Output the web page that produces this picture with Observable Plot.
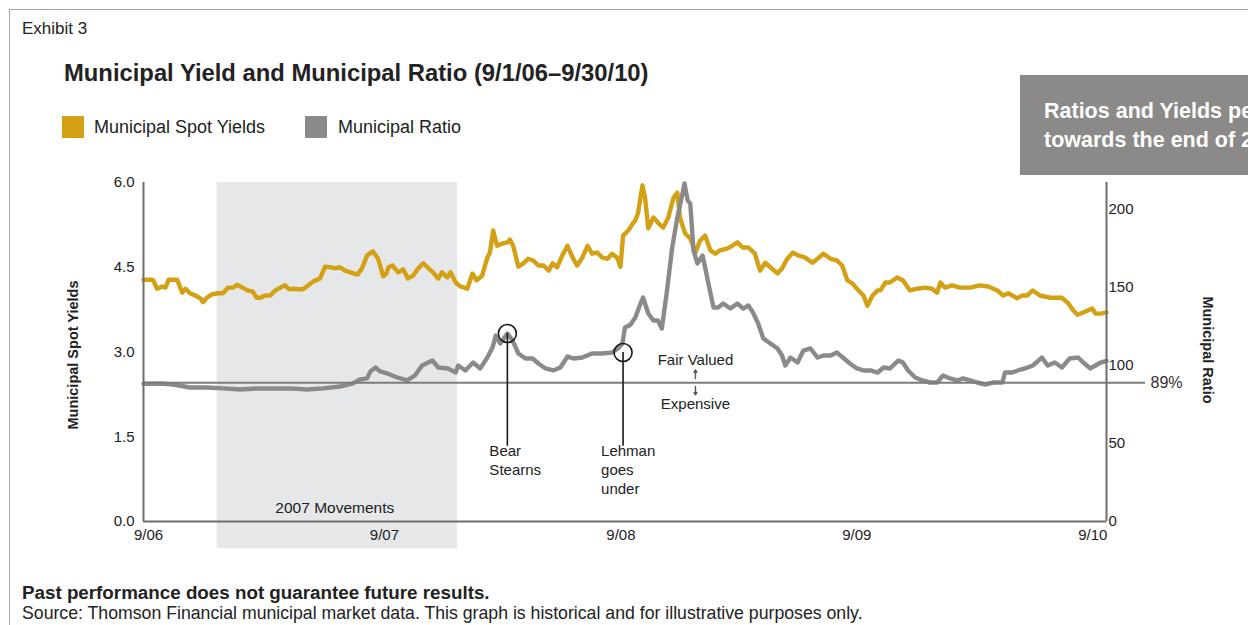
<!DOCTYPE html>
<html><head><meta charset="utf-8">
<script src="https://cdn.jsdelivr.net/npm/d3@7"></script>
<script src="https://cdn.jsdelivr.net/npm/@observablehq/plot@0.6"></script>
<style>
html,body{margin:0;padding:0;background:#fff;overflow:hidden;}
body{width:1248px;height:625px;position:relative;font-family:"Liberation Sans",Arial,Helvetica,sans-serif;color:#222;}
.abs{position:absolute;white-space:nowrap;line-height:1;}
#frame{position:absolute;left:9px;top:9px;width:1400px;height:800px;border-top:1px solid #a9a9a9;border-left:1px solid #a9a9a9;}
#chart{position:absolute;left:0;top:0;}
.sw{position:absolute;width:22px;height:22px;}
#box{position:absolute;left:1020px;top:75px;width:228px;height:100px;background:#8c8a88;overflow:hidden;}
.boxt{position:absolute;left:24px;color:#fff;font-weight:bold;font-size:21.5px;line-height:1;white-space:nowrap;}
.vt{position:absolute;font-weight:bold;font-size:14.5px;line-height:1;white-space:nowrap;}
</style></head>
<body>
<div id="frame"></div>
<div id="chart"></div>
<div class="abs" style="left:22px;top:19.5px;font-size:17px;">Exhibit 3</div>
<div class="abs" style="left:64px;top:61px;font-size:23.8px;font-weight:bold;">Municipal Yield and Municipal Ratio (9/1/06–9/30/10)</div>
<div class="sw" style="left:62px;top:116px;background:#d4a114;"></div>
<div class="abs" style="left:94px;top:118px;font-size:18px;">Municipal Spot Yields</div>
<div class="sw" style="left:305px;top:116px;background:#8c8a88;"></div>
<div class="abs" style="left:338px;top:118px;font-size:18px;">Municipal Ratio</div>
<div id="box"><div class="boxt" style="top:26px;">Ratios and Yields peaked</div><div class="boxt" style="top:55px;">towards the end of 2008</div></div>
<div class="vt" style="left:73px;top:355px;transform:translate(-50%,-50%) rotate(-90deg);">Municipal Spot Yields</div>
<div class="vt" style="left:1208px;top:350px;transform:translate(-50%,-50%) rotate(90deg);">Municipal Ratio</div>
<div class="abs" style="left:22px;top:583.5px;font-size:18.8px;font-weight:bold;">Past performance does not guarantee future results.</div>
<div class="abs" style="left:22px;top:605px;font-size:17.7px;">Source: Thomson Financial municipal market data. This graph is historical and for illustrative purposes only.</div>
<script>
// ---- data ----
const yieldDates = ["2006-09-01","2006-09-12","2006-09-16","2006-09-22","2006-09-30","2006-10-05","2006-10-10","2006-10-17","2006-10-23","2006-10-31","2006-11-05","2006-11-12","2006-11-20","2006-11-28","2006-12-02","2006-12-08","2006-12-16","2006-12-26","2007-01-02","2007-01-10","2007-01-18","2007-01-24","2007-02-01","2007-02-09","2007-02-17","2007-02-23","2007-03-01","2007-03-08","2007-03-16","2007-03-24","2007-04-01","2007-04-08","2007-04-14","2007-04-21","2007-04-28","2007-05-06","2007-05-14","2007-05-22","2007-06-01","2007-06-09","2007-06-17","2007-06-25","2007-07-02","2007-07-10","2007-07-18","2007-07-29","2007-08-05","2007-08-13","2007-08-22","2007-08-30","2007-09-07","2007-09-12","2007-09-15","2007-09-21","2007-09-30","2007-10-08","2007-10-15","2007-10-23","2007-10-31","2007-11-08","2007-11-16","2007-11-23","2007-12-01","2007-12-07","2007-12-15","2007-12-20","2007-12-28","2008-01-04","2008-01-15","2008-01-23","2008-01-29","2008-02-07","2008-02-15","2008-02-19","2008-02-24","2008-03-01","2008-03-09","2008-03-17","2008-03-21","2008-03-26","2008-04-03","2008-04-11","2008-04-18","2008-04-26","2008-05-04","2008-05-12","2008-05-20","2008-05-26","2008-06-02","2008-06-10","2008-06-18","2008-06-26","2008-07-03","2008-07-11","2008-07-19","2008-07-26","2008-08-03","2008-08-11","2008-08-19","2008-08-26","2008-09-03","2008-09-08","2008-09-12","2008-09-20","2008-09-28","2008-10-01","2008-10-05","2008-10-12","2008-10-16","2008-10-21","2008-10-29","2008-11-05","2008-11-13","2008-11-21","2008-11-29","2008-12-05","2008-12-09","2008-12-17","2008-12-25","2009-01-02","2009-01-09","2009-01-17","2009-01-25","2009-02-02","2009-02-09","2009-02-20","2009-02-28","2009-03-08","2009-03-16","2009-03-25","2009-04-04","2009-04-12","2009-04-20","2009-04-28","2009-05-09","2009-05-16","2009-05-24","2009-06-02","2009-06-10","2009-06-21","2009-07-02","2009-07-10","2009-07-19","2009-07-30","2009-08-09","2009-08-17","2009-08-25","2009-09-02","2009-09-11","2009-09-19","2009-09-25","2009-10-03","2009-10-11","2009-10-15","2009-10-23","2009-10-30","2009-11-10","2009-11-19","2009-11-30","2009-12-11","2009-12-23","2010-01-03","2010-01-11","2010-01-16","2010-01-23","2010-02-03","2010-02-15","2010-03-03","2010-03-18","2010-03-31","2010-04-14","2010-04-23","2010-05-01","2010-05-15","2010-05-22","2010-05-30","2010-06-08","2010-06-19","2010-07-05","2010-07-23","2010-08-02","2010-08-10","2010-08-16","2010-08-25","2010-09-08","2010-09-13","2010-09-21","2010-09-30"];
const yieldValues = [4.28,4.28,4.27,4.12,4.16,4.14,4.28,4.28,4.28,4.05,4.12,4.04,4.00,3.95,3.88,3.96,4.02,4.04,4.04,4.14,4.14,4.19,4.14,4.09,4.07,3.96,3.96,4.00,4.00,4.09,4.14,4.18,4.11,4.12,4.11,4.11,4.18,4.25,4.30,4.51,4.50,4.48,4.50,4.44,4.41,4.37,4.48,4.71,4.78,4.65,4.34,4.39,4.50,4.53,4.41,4.46,4.30,4.35,4.48,4.57,4.48,4.41,4.30,4.41,4.32,4.41,4.23,4.16,4.12,4.39,4.27,4.35,4.67,4.76,5.15,4.88,4.92,4.94,4.99,4.88,4.51,4.57,4.65,4.62,4.53,4.53,4.44,4.57,4.50,4.71,4.88,4.67,4.53,4.67,4.88,4.74,4.76,4.67,4.65,4.74,4.67,4.51,5.06,5.15,5.29,5.33,5.45,5.95,5.73,5.19,5.38,5.29,5.20,5.38,5.73,5.82,5.38,5.10,5.01,4.76,4.97,5.06,4.80,4.74,4.80,4.83,4.88,4.94,4.85,4.85,4.74,4.44,4.58,4.50,4.39,4.48,4.65,4.76,4.71,4.67,4.58,4.65,4.74,4.65,4.62,4.53,4.27,4.21,4.09,4.00,3.82,4.00,4.09,4.09,4.23,4.23,4.32,4.27,4.09,4.12,4.14,4.12,4.05,4.23,4.14,4.18,4.14,4.14,4.18,4.16,4.09,4.00,4.04,3.95,4.00,4.00,4.09,4.00,3.96,3.96,3.86,3.73,3.66,3.70,3.77,3.68,3.68,3.70];

const ratioDates = ["2006-09-01","2006-09-27","2006-10-17","2006-11-12","2006-12-08","2007-01-02","2007-01-29","2007-02-24","2007-03-21","2007-04-16","2007-05-12","2007-06-06","2007-07-02","2007-07-22","2007-08-02","2007-08-13","2007-08-18","2007-08-26","2007-09-02","2007-09-13","2007-09-29","2007-10-14","2007-10-26","2007-11-06","2007-11-22","2007-12-01","2007-12-16","2007-12-28","2008-01-01","2008-01-12","2008-01-24","2008-02-04","2008-02-15","2008-02-23","2008-02-28","2008-03-06","2008-03-17","2008-03-25","2008-04-03","2008-04-14","2008-04-25","2008-05-04","2008-05-15","2008-05-27","2008-06-07","2008-06-18","2008-06-27","2008-07-11","2008-07-26","2008-08-11","2008-08-26","2008-09-04","2008-09-11","2008-09-15","2008-09-23","2008-10-01","2008-10-09","2008-10-13","2008-10-21","2008-10-29","2008-11-05","2008-11-11","2008-11-19","2008-11-27","2008-12-05","2008-12-13","2008-12-16","2008-12-21","2008-12-25","2008-12-30","2009-01-05","2009-01-13","2009-01-17","2009-01-22","2009-01-30","2009-02-06","2009-02-14","2009-02-25","2009-03-08","2009-03-17","2009-03-25","2009-04-01","2009-04-09","2009-04-17","2009-04-28","2009-05-09","2009-05-16","2009-05-21","2009-05-29","2009-06-09","2009-06-18","2009-06-29","2009-07-10","2009-07-19","2009-07-30","2009-08-09","2009-08-18","2009-08-29","2009-09-09","2009-09-19","2009-09-30","2009-10-11","2009-10-20","2009-10-30","2009-11-12","2009-11-19","2009-11-27","2009-12-08","2009-12-19","2009-12-31","2010-01-11","2010-01-20","2010-01-31","2010-02-11","2010-02-20","2010-03-03","2010-03-14","2010-03-26","2010-04-08","2010-04-22","2010-04-26","2010-05-07","2010-05-16","2010-05-27","2010-06-08","2010-06-22","2010-07-01","2010-07-12","2010-07-23","2010-08-04","2010-08-17","2010-08-25","2010-09-05","2010-09-13","2010-09-21","2010-09-30"];
const ratioValues = [88.3,88.5,87.8,85.9,85.9,85.3,84.6,85.3,85.3,85.3,84.6,85.3,86.5,88.5,91.0,91.7,96.2,98.7,96.2,94.9,92.3,90.4,93.6,100.0,103.2,98.7,98.1,95.5,100.0,96.8,101.9,98.1,105.1,111.5,119.2,114.1,120.5,116.0,107.7,104.5,104.5,101.3,98.1,96.8,98.7,105.8,104.5,105.1,107.7,107.7,108.3,110.9,114.1,124.4,126.0,130.8,139.7,143.6,133.3,128.8,128.8,123.7,148.1,175.6,194.9,210.3,216.7,205.8,203.8,173.7,165.4,170.5,162.8,152.6,137.2,137.2,139.7,136.5,139.7,136.5,138.5,134.0,126.9,117.3,114.1,110.9,106.4,100.0,105.1,101.9,109.6,110.9,105.1,106.4,106.4,108.3,105.1,101.3,98.1,96.8,96.8,95.5,98.7,98.1,103.2,101.9,96.8,92.3,90.4,89.1,89.1,93.6,91.7,90.4,91.7,90.4,89.1,87.8,89.1,89.1,95.5,95.5,96.8,98.1,100.0,105.1,100.0,101.9,98.7,104.5,105.1,101.9,98.1,100.0,101.9,103.0];

const xTickDates = ["2006-09-01","2007-09-01","2008-09-01","2009-09-01","2010-09-01"];
const yieldTicks = [0, 1.5, 3.0, 4.5, 6.0];
const ratioTicks = [0, 50, 100, 150, 200];
const fairRatio = 89;
const shadeStart = "2006-12-24", shadeEnd = "2007-12-31", shadeLabel = "2007 Movements";
const eventLabels = ["Bear\nStearns", "Lehman\ngoes\nunder"];
const eventDates = ["2008-03-17", "2008-09-12"];
const eventRatios = [120.5, 108.3];

// ---- scales ----
const parse = d3.utcParse("%Y-%m-%d");
const start = parse("2006-09-01"), end = parse("2010-09-30");
const yMax = 6, rMax = 217.3, K = yMax / rMax;
const GOLD = "#d4a114", GRAY = "#8c8a88", AX = "#6e6e6e";

const yields = yieldDates.map((d, i) => ({date: parse(d), v: yieldValues[i]}));
const ratios = ratioDates.map((d, i) => ({date: parse(d), v: ratioValues[i] * K}));
const events = eventDates.map((d, i) => ({date: parse(d), v: eventRatios[i] * K, end: 54 * K, label: eventLabels[i]}));
const fairDate = parse("2009-01-02");

const plot = Plot.plot({
  width: 1248, height: 625,
  marginLeft: 143, marginRight: 142, marginTop: 182, marginBottom: 104,
  x: {type: "utc", domain: [start, end]},
  y: {domain: [0, yMax]},
  style: {fontFamily: '"Liberation Sans", Arial, Helvetica, sans-serif', fontSize: "15px", color: "#222", background: "transparent", overflow: "visible"},
  marks: [
    Plot.rect([{a: parse(shadeStart), b: parse(shadeEnd)}], {x1: "a", x2: "b", y1: -0.48, y2: yMax, fill: "#e6e7e9"}),
    Plot.text([shadeLabel], {x: parse("2007-06-24"), y: 0.23, fontSize: 15.5, fill: "#222"}),
    Plot.line(yields, {x: "date", y: "v", stroke: GOLD, strokeWidth: 4.4, strokeLinejoin: "round"}),
    Plot.line(ratios, {x: "date", y: "v", stroke: GRAY, strokeWidth: 4.4, strokeLinejoin: "round"}),
    Plot.ruleY([fairRatio * K], {stroke: "#7c7c7c", strokeWidth: 2, insetRight: -39}),
    Plot.text([fairRatio + "%"], {frameAnchor: "right", y: fairRatio * K, dx: 44, textAnchor: "start", fontSize: 16, fill: "#333"}),
    // axis lines
    Plot.ruleX([start, end], {y1: 0, y2: yMax, stroke: AX, strokeWidth: 2}),
    Plot.ruleY([0], {stroke: AX, strokeWidth: 2}),
    Plot.axisY({ticks: yieldTicks, tickFormat: d3.format(".1f"), tickSize: 0, tickPadding: 9, label: null, fill: "#222"}),
    Plot.axisY({anchor: "right", ticks: ratioTicks.map(t => t * K), tickFormat: d => String(Math.round(d / K)), tickSize: 0, tickPadding: 2, label: null, fill: "#222"}),
    Plot.axisX({ticks: xTickDates.map(parse), tickFormat: d3.utcFormat("%-m/%y"), tickSize: 0, tickPadding: 8, dx: 5, label: null, fill: "#222"}),
    // event annotations
    Plot.ruleX(events, {x: "date", y1: "end", y2: "v", insetTop: 9, stroke: "#1a1a1a", strokeWidth: 1.6}),
    Plot.dot(events, {x: "date", y: "v", r: 9, stroke: "#1a1a1a", strokeWidth: 1.6, fill: "none"}),
    Plot.text([events[0]], {x: "date", y: "end", text: "label", textAnchor: "start", lineAnchor: "top", dx: -18, dy: 5, lineHeight: 1.27, fill: "#222"}),
    Plot.text([events[1]], {x: "date", y: "end", text: "label", textAnchor: "start", lineAnchor: "top", dx: -22, dy: 5, lineHeight: 1.27, fill: "#222"}),
    // fair valued / expensive
    Plot.text(["Fair Valued"], {x: fairDate, y: fairRatio * K, dy: -22, fill: "#222"}),
    Plot.text(["Expensive"], {x: fairDate, y: fairRatio * K, dy: 22, fill: "#222"}),
    Plot.arrow([{x: fairDate, a: 91.7 * K, b: 97.2 * K}, {x: fairDate, a: 86.6 * K, b: 81.2 * K}],
      {x1: "x", x2: "x", y1: "a", y2: "b", stroke: "#555", strokeWidth: 1.4, headLength: 6})
  ]
});
document.getElementById("chart").appendChild(plot);
</script>
</body></html>
